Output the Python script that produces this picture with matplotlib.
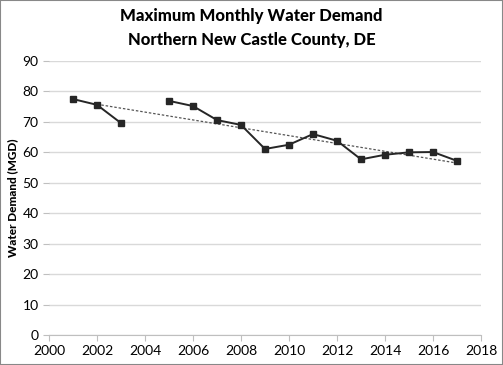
import numpy as np
import matplotlib
matplotlib.use('Agg')
from matplotlib import pyplot as plt

years = [2001, 2002, 2003, 2004, 2005, 2006, 2007, 2008, 2009, 2010, 2011, 2012, 2013, 2014, 2015, 2016, 2017]
demand = [77.5, 75.6, 69.6, np.nan, 76.9, 75.2, 70.6, 69.0, 61.1, 62.5, 66.0, 63.8, 57.7, 59.2, 60.0, 60.1, 57.2]
trend_years = [2002, 2017]

plt.rcParams['font.family'] = ['Lato', 'DejaVu Sans']

fig = plt.figure(figsize=(5.03, 3.65), dpi=100)
ax = fig.add_axes([49/503, 1 - 335/365, 432/503, 274/365])

x = np.array(years, dtype=float)
y = np.array(demand, dtype=float)
ok = ~np.isnan(y)
k, b = np.polyfit(x[ok], y[ok], 1)
tx = np.array(trend_years, dtype=float)
ax.plot(tx, k * tx + b, color='#555555', lw=0.9, ls=(0, (2, 1.5)), zorder=2)

ax.plot(years, demand, color='#262626', lw=1.4, marker='s', ms=5, zorder=3)

ax.set_xlim(2000, 2018)
ax.set_ylim(0, 90)
ax.set_xticks(range(2000, 2019, 2))
ax.set_yticks(range(0, 91, 10))
ax.grid(axis='y', color='#d9d9d9', lw=1)
ax.set_axisbelow(True)
for s in ['top', 'right', 'left']:
    ax.spines[s].set_visible(False)
ax.spines['bottom'].set_color('#bfbfbf')
ax.tick_params(axis='x', colors='#bfbfbf', length=4, labelcolor='black', labelsize=10)
ax.tick_params(axis='y', colors='#bfbfbf', length=4, labelcolor='black', labelsize=10)
ax.set_ylabel('Water Demand (MGD)', fontsize=8.5, fontweight='black', labelpad=3)

fig.text(0.5, 1 - 28/365, 'Maximum Monthly Water Demand\nNorthern New Castle County, DE',
         ha='center', va='center', fontsize=12, fontweight='black', linespacing=1.55)

fig.patches.append(plt.Rectangle((0, 0), 1, 1, transform=fig.transFigure,
                                 fill=False, edgecolor='#888888', lw=1.5))

fig.savefig('out.png', dpi=100)
